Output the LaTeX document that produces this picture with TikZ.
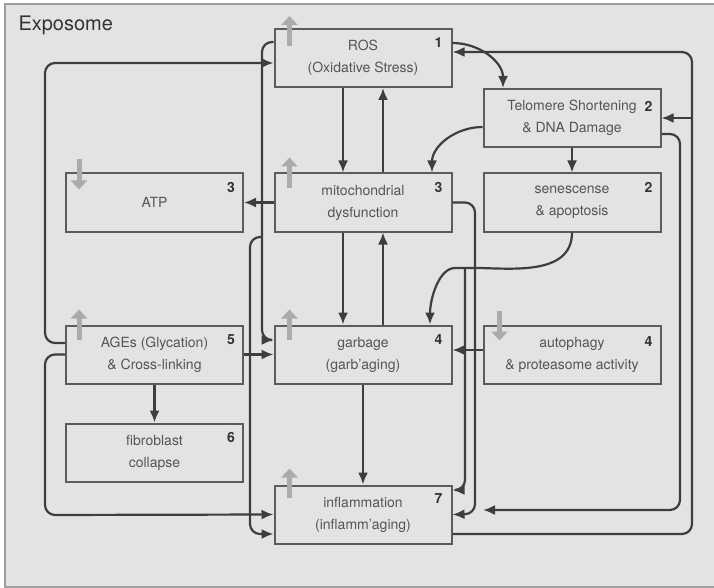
\documentclass[tikz,border=0pt]{standalone}
\usepackage{fontspec}
\setmainfont{TeX Gyre Heros}
\usetikzlibrary{positioning,arrows.meta}
\definecolor{bgray}{HTML}{E3E3E3}
\definecolor{lgray}{HTML}{5C5C5C}
\definecolor{agray}{HTML}{3E3E3E}
\definecolor{tgray}{HTML}{555555}
\definecolor{ugray}{HTML}{ABABAB}

\begin{document}
\begin{tikzpicture}[x=1pt,y=-1pt,on grid,
    box/.style={draw=lgray,line width=2pt,fill=bgray,minimum width=177pt,minimum height=58pt,
      inner sep=0pt,align=center,text=tgray,font=\fontsize{14}{22}\selectfont},
    num/.style={inner sep=0pt,text=black!80,font=\fontsize{14}{14}\selectfont\bfseries},
    link/.style={color=agray,line width=2.2pt,rounded corners=10pt,-{Latex[length=12pt,width=10pt]}},
    trend/.style={draw=ugray,line width=5pt,-{Triangle[length=9pt,width=16pt]}}]
    \useasboundingbox (0,0) rectangle (714,588);
    \clip (0,0) rectangle (714,588);
    \fill[white] (0,0) rectangle (714,588);
    \draw[draw=black!38,line width=2pt,fill=bgray] (5,4) rectangle (724,587);
    \node[anchor=west,text=black!80,font=\fontsize{20}{20}\selectfont] (t_expo) at (15,25) {Exposome};

    % boxes
    \node[box] (b_ros) at (363,58) {ROS\\(Oxidative Stress)};
    \node[box] (b_mito) [below=144.5pt of b_ros] {mitochondrial\\dysfunction};
    \node[box] (b_garb) [below=152pt of b_mito] {garbage\\(garb'aging)};
    \node[box] (b_infl) [below=160pt of b_garb] {inflammation\\(inflamm'aging)};
    \node[box] (b_atp) [left=208.5pt of b_mito] {ATP};
    \node[box] (b_sen) [right=209pt of b_mito] {senescense\\\& apoptosis};
    \node[box] (b_telo) [above=84.5pt of b_sen] {Telomere Shortening\\\& DNA Damage};
    \node[box] (b_ages) [left=208.5pt of b_garb] {AGEs (Glycation)\\\& Cross-linking};
    \node[box] (b_auto) [right=209pt of b_garb] {autophagy\\\& proteasome activity};
    \node[box] (b_fib) [below=98pt of b_ages] {fibroblast\\collapse};

    % numbers
    \node[num] (n_ros) at ([xshift=-14pt,yshift=-15pt]b_ros.north east) {1};
    \node[num] (n_telo) at ([xshift=-13pt,yshift=-18pt]b_telo.north east) {2};
    \node[num] (n_atp) at ([xshift=-13pt,yshift=-15pt]b_atp.north east) {3};
    \node[num] (n_mito) at ([xshift=-14pt,yshift=-15pt]b_mito.north east) {3};
    \node[num] (n_sen) at ([xshift=-13pt,yshift=-15pt]b_sen.north east) {2};
    \node[num] (n_ages) at ([xshift=-13pt,yshift=-15pt]b_ages.north east) {5};
    \node[num] (n_garb) at ([xshift=-14pt,yshift=-15pt]b_garb.north east) {4};
    \node[num] (n_auto) at ([xshift=-13pt,yshift=-17pt]b_auto.north east) {4};
    \node[num] (n_fib) at ([xshift=-13pt,yshift=-15pt]b_fib.north east) {6};
    \node[num] (n_infl) at ([xshift=-14pt,yshift=-14pt]b_infl.north east) {7};

    % up / down trends
    \draw[trend] ([xshift=16pt,yshift=-18pt]b_ros.north west) -- ++(0pt,30pt);
    \draw[trend] ([xshift=16pt,yshift=-15pt]b_mito.north west) -- ++(0pt,30pt);
    \draw[trend] ([xshift=16pt,yshift=-15pt]b_garb.north west) -- ++(0pt,30pt);
    \draw[trend] ([xshift=14pt,yshift=-15pt]b_ages.north west) -- ++(0pt,30pt);
    \draw[trend] ([xshift=16pt,yshift=-13pt]b_infl.north west) -- ++(0pt,29pt);
    \draw[trend] ([xshift=14pt,yshift=13pt]b_atp.north west) -- ++(0pt,-30pt);
    \draw[trend] ([xshift=17pt,yshift=14pt]b_auto.north west) -- ++(0pt,-30pt);

    % connectors
    \coordinate (c_right) at (692,118);
    \coordinate (c_stop) at (483,510);
    \coordinate (c_split) at (262,237);
    \coordinate (c_fork) at (465,268);
    \path[link]
    (b_telo) edge (b_sen)
    (b_mito) edge (b_atp)
    (b_ages) edge (b_garb)
    (b_ages) edge (b_fib)
    (b_garb) edge (b_infl)
    ([yshift=4.5pt]b_auto.west) edge ([yshift=4.5pt]b_garb.east)
    ([xshift=-20pt]b_ros.south) edge ([xshift=-20pt]b_mito.north)
    ([xshift=20pt]b_mito.north) edge ([xshift=20pt]b_ros.south)
    ([xshift=-20pt]b_mito.south) edge ([xshift=-20pt]b_garb.north)
    ([xshift=20pt]b_garb.north) edge ([xshift=20pt]b_mito.south)
    (c_right) edge (b_telo.east)
    ; %end path
    \draw[link] ([yshift=11.5pt]b_ages.west) -| (45,63) -- ([yshift=-5pt]b_ros.west);
    \draw[link] (b_ages.west) -| (45,515) -- (b_infl.west);
    \draw[link] ([yshift=15pt]b_ros.east) to[out=0,in=90] ([xshift=-69pt]b_telo.north);
    \draw[link] ([yshift=-19.5pt]b_infl.east) -| (692,52) -- ([yshift=6pt]b_ros.east);
    \draw[link] ([yshift=-9pt]b_telo.west) to[out=180,in=90] ([xshift=69pt]b_mito.north);
    \draw[link] ([yshift=-16pt]b_telo.east) -| (680,510) -- (c_stop);
    \draw[link] ([yshift=16pt]b_ros.west) -| (262,340) -- ([yshift=14.5pt]b_garb.west);
    \draw[link] (c_split) -| (250,534) -- ([yshift=-19.5pt]b_infl.east -| b_infl.west);
    \draw[link] (b_mito.east) -| (475,514) -- (b_infl.east);
    \draw[link] (b_sen.south) to[out=-90,in=0] (c_fork) to[out=180,in=90] ([xshift=67pt]b_garb.north);
    \draw[link] (c_fork) |- ([yshift=24.5pt]b_infl.east);
\end{tikzpicture}
\end{document}
